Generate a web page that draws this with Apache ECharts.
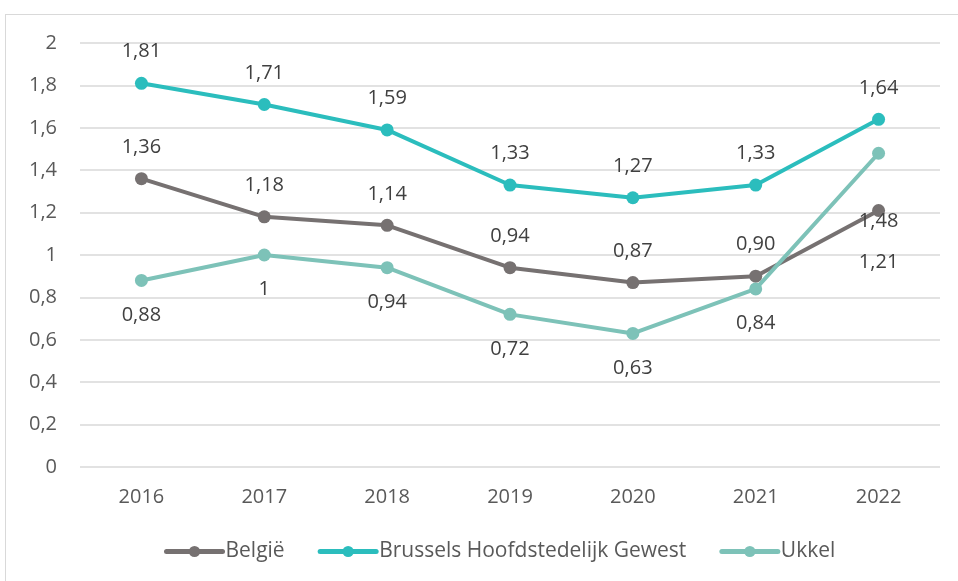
<!DOCTYPE html>
<html>
<head>
<meta charset="utf-8">
<script src="https://cdn.jsdelivr.net/npm/echarts@6/dist/echarts.min.js"></script>
<style>
    html, body { margin: 0; padding: 0; background: #fff; }
    #frame {
        position: absolute;
        left: 5px;
        top: 14px;
        width: 970px;
        height: 590px;
        border: 1px solid #d9d9d9;
        box-sizing: border-box;
    }
    #chart {
        position: absolute;
        left: 0;
        top: 0;
        width: 958px;
        height: 581px;
    }
</style>
</head>
<body>
<div id="frame"></div>
<div id="chart"></div>
<script>
    var years = ['2016', '2017', '2018', '2019', '2020', '2021', '2022'];
    var belgie = [1.36, 1.18, 1.14, 0.94, 0.87, 0.90, 1.21];
    var brussel = [1.81, 1.71, 1.59, 1.33, 1.27, 1.33, 1.64];
    var ukkel = [0.88, 1, 0.94, 0.72, 0.63, 0.84, 1.48];
    var belgieLabels = ['1,36', '1,18', '1,14', '0,94', '0,87', '0,90', '1,21'];
    var brusselLabels = ['1,81', '1,71', '1,59', '1,33', '1,27', '1,33', '1,64'];
    var ukkelLabels = ['0,88', '1', '0,94', '0,72', '0,63', '0,84', '1,48'];

    var font = '"Open Sans", sans-serif';
    var textCol = '#404040';
    var axisCol = '#595959';

    function build(values, labels, special) {
        var data = [];
        for (var i = 0; i < values.length; i++) {
            var item = {value: values[i], label: {formatter: labels[i]}};
            if (special[i]) item.label = Object.assign(item.label, special[i]);
            data.push(item);
        }
        return data;
    }

    function series(name, color, values, labels, pos, dist, special) {
        return {
            name: name,
            type: 'line',
            symbol: 'circle',
            symbolSize: 13,
            color: color,
            lineStyle: {width: 4, color: color},
            itemStyle: {color: color},
            label: {
                show: true,
                position: pos,
                distance: dist,
                fontFamily: font,
                fontSize: 20,
                color: textCol
            },
            emphasis: {disabled: true},
            animation: false,
            data: build(values, labels, special)
        };
    }

    var chart = echarts.init(document.getElementById('chart'));
    chart.setOption({
        animation: false,
        grid: {left: 80, right: 18, top: 43, bottom: 114},
        legend: {
            bottom: 14,
            left: 159,
            itemWidth: 56,
            itemHeight: 14,
            itemGap: 33,
            lineStyle: {width: 5, cap: 'round'},
            textStyle: {fontFamily: font, fontSize: 21, color: axisCol, padding: [0, 0, 0, -2]},
            data: ['België', 'Brussels Hoofdstedelijk Gewest', 'Ukkel']
        },
        xAxis: {
            type: 'category',
            data: years,
            axisLine: {show: false},
            axisTick: {show: false},
            axisLabel: {fontFamily: font, fontSize: 20, color: axisCol, margin: 20}
        },
        yAxis: {
            type: 'value',
            min: 0,
            max: 2,
            interval: 0.2,
            axisLine: {show: false},
            axisTick: {show: false},
            splitLine: {lineStyle: {color: '#d9d9d9', width: 1.5}},
            axisLabel: {
                fontFamily: font, fontSize: 20, color: axisCol, margin: 23,
                formatter: function (v) { return (Math.round(v * 10) / 10).toString().replace('.', ','); }
            }
        },
        series: [
            series('België', '#767171', belgie, belgieLabels, 'top', 15,
                {6: {position: 'bottom', distance: 18, offset: [0, 17]}}),
            series('Brussels Hoofdstedelijk Gewest', '#2bbdbd', brussel, brusselLabels, 'top', 15, {}),
            series('Ukkel', '#7dc2b8', ukkel, ukkelLabels, 'bottom', 18,
                {6: {offset: [0, 34]}})
        ]
    });
</script>
</body>
</html>
